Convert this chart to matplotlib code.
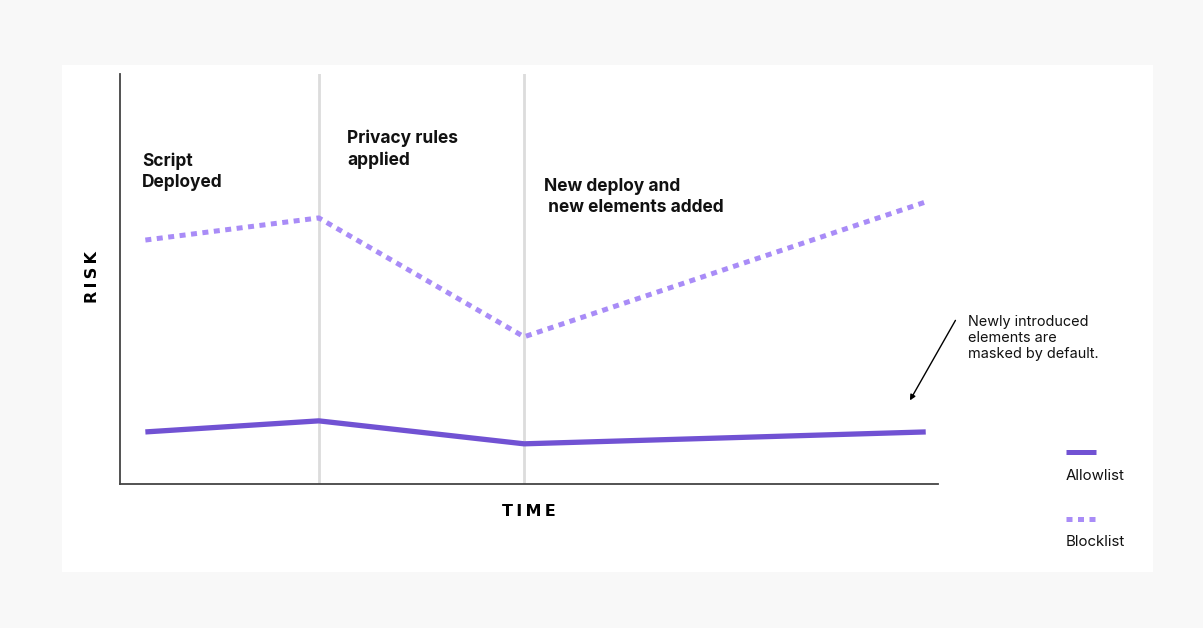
import matplotlib.pyplot as plt
from matplotlib.patches import Rectangle
from matplotlib.lines import Line2D

# time positions (arbitrary units) and risk levels
time_pts = [3.1, 24.3, 49.4, 98.5]
allowlist = [12.7, 15.4, 9.8, 12.7]
blocklist = [59.5, 64.9, 35.9, 68.8]
events = [24.3, 49.4]
event_labels = ['Script\nDeployed', 'Privacy rules\napplied',
                'New deploy and\n new elements added']
event_label_pos = [(2.7, 71.5), (27.8, 76.9), (51.8, 65.4)]

c_allow = '#7152d3'
c_block = '#a98cf7'

plt.rcParams['font.family'] = ['Inter', 'DejaVu Sans']

fig = plt.figure(figsize=(12.03, 6.28), dpi=100)
fig.patch.set_facecolor('#f8f8f8')
# white card behind the chart
fig.patches.append(Rectangle((62/1203, 1-572/628), (1153-62)/1203, (572-65)/628,
                             transform=fig.transFigure, facecolor='white',
                             edgecolor='none', zorder=-5))

ax = fig.add_axes([120/1203, 1-484/628, (938-120)/1203, (484-74)/628])
ax.set_facecolor('none')
ax.set_xlim(0, 100)
ax.set_ylim(0, 100)

for _x in events:
    ax.axvline(_x, color='#dcdcdc', lw=2, zorder=1)

ax.plot(time_pts, allowlist, color=c_allow, lw=3.8, solid_capstyle='butt',
        solid_joinstyle='round', zorder=3)
ax.plot(time_pts, blocklist, color=c_block, lw=3.6, linestyle=(0, (1.2, 1.1)),
        dash_capstyle='butt', zorder=3)

for _t, _p in zip(event_labels, event_label_pos):
    ax.text(_p[0], _p[1], _t, fontsize=12.5, fontweight='bold', va='bottom',
            ha='left', linespacing=1.3, color='#111111')

for s in ['top', 'right']:
    ax.spines[s].set_visible(False)
for s in ['left', 'bottom']:
    ax.spines[s].set_color('#444444')
    ax.spines[s].set_linewidth(1.3)
ax.set_xticks([])
ax.set_yticks([])

sp = '\u2009'
fig.text(92/1203, 1-277/628, sp.join('RISK'), rotation=90, fontsize=11.5,
         fontweight='bold', ha='center', va='center', family='DejaVu Sans')
fig.text(529/1203, 1-512/628, sp.join('TIME'), fontsize=11.5, fontweight='bold',
         ha='center', va='center', family='DejaVu Sans')

# annotation
ax.annotate('', xy=(96.4, 19.8), xytext=(102.3, 40.5),
            arrowprops=dict(arrowstyle='-|>', color='black', lw=1,
                            mutation_scale=8), annotation_clip=False)
fig.text(968/1203, 1-338/628, 'Newly introduced\nelements are\nmasked by default.',
         fontsize=10.4, ha='left', va='center', linespacing=1.15, color='#111111')

# legend
fig.add_artist(Line2D([1066/1203, 1096/1203], [1-452/628]*2, color=c_allow,
                      lw=3.6, solid_capstyle='butt', transform=fig.transFigure))
fig.text(1066/1203, 1-476/628, 'Allowlist', fontsize=10.8, va='center',
         color='#111111')
fig.add_artist(Line2D([1066/1203, 1096/1203], [1-519/628]*2, color=c_block,
                      lw=3.6, linestyle=(0, (1.2, 1.1)), dash_capstyle='butt',
                      transform=fig.transFigure))
fig.text(1066/1203, 1-542/628, 'Blocklist', fontsize=10.8, va='center',
         color='#111111')

fig.savefig('out.png', dpi=100, facecolor=fig.get_facecolor())
